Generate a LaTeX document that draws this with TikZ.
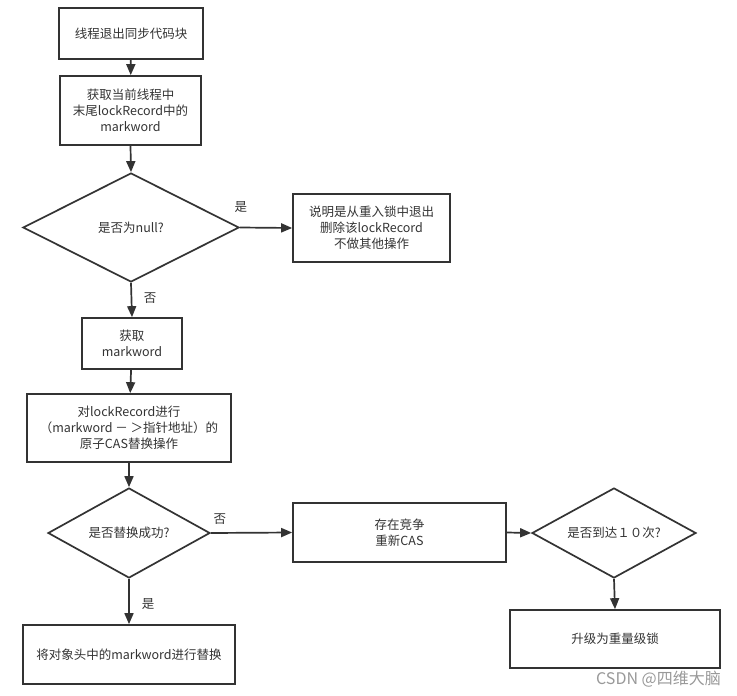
\documentclass[tikz,border=0pt]{standalone}
\usepackage{fontspec}
\setmainfont{Noto Sans CJK SC}
\usetikzlibrary{shapes.geometric,arrows.meta}
\definecolor{ln}{HTML}{333333}
\definecolor{tx}{HTML}{333333}
\begin{document}
\begin{tikzpicture}[x=1pt,y=-1pt,
  every node/.style={font=\fontsize{12.5}{16}\selectfont, text=tx, align=center, inner sep=0pt},
  box/.style={draw=ln, line width=1.7pt, rectangle},
  arr/.style={draw=ln, line width=1.7pt, -{Triangle[length=11pt,width=9pt]}},
  lbl/.style={font=\fontsize{12.5}{14}\selectfont}]
\useasboundingbox[fill=white] (0,0) rectangle (737,696);
\node[box, minimum width=144pt, minimum height=51pt] (b1) at (131,33.5) {线程退出同步代码块};
\node[box, minimum width=141pt, minimum height=69pt] (b2) at (130.5,110.5) {获取当前线程中\\末尾lockRecord中的\\markword};
\node[draw=ln, line width=1.7pt, shape=diamond, minimum width=216pt, minimum height=109pt, inner sep=0pt, aspect=2] (d1) at (131,227.5) {};
\node at (131,227.5) {是否为null?};
\node[box, minimum width=157pt, minimum height=68pt] (b3) at (371.5,228) {说明是从重入锁中退出\\删除该lockRecord\\不做其他操作};
\node[box, minimum width=100pt, minimum height=51pt] (b4) at (132,343.5) {获取\\markword};
\node[box, minimum width=204pt, minimum height=68pt] (b5) at (129,428) {对lockRecord进行\\（markword － ＞指针地址）的\\原子CAS替换操作};
\node[draw=ln, line width=1.7pt, shape=diamond, minimum width=162pt, minimum height=90pt, aspect=1.8] (d2) at (129,533) {};
\node at (129,533) {是否替换成功?};
\node[box, minimum width=212pt, minimum height=59pt] (b6) at (129,654.5) {将对象头中的markword进行替换};
\node[box, minimum width=213pt, minimum height=59pt] (b7) at (399.5,532.5) {存在竞争\\重新CAS};
\node[draw=ln, line width=1.7pt, shape=diamond, minimum width=164pt, minimum height=90pt, aspect=1.8] (d3) at (614,533) {};
\node at (614,533) {是否到达１０次?};
\node[box, minimum width=210pt, minimum height=58pt] (b8) at (615,639) {升级为重量级锁};
\draw[arr] (b1) -- (b2);
\draw[arr] (b2.south) -- (d1.north);
\draw[arr] (d1.east) -- (b3.west) node[lbl, at start, xshift=1pt, yshift=20pt] {是};
\draw[arr] (d1.south) -- (b4.north) node[lbl, at start, xshift=19pt, yshift=-15pt] {否};
\draw[arr] (b4) -- (b5);
\draw[arr] (b5.south) -- (d2.north);
\draw[arr] (d2.east) -- (b7.west) node[lbl, at start, xshift=9pt, yshift=14pt] {否};
\draw[arr] (d2.south) -- (b6.north) node[lbl, at start, xshift=19pt, yshift=-25pt] {是};
\draw[arr] (b7.east) -- (d3.west);
\draw[arr] (d3.south) -- (b8.north);
\node[font=\fontsize{16}{18}\selectfont, text=black!40, anchor=east] (wm) at (721,679) {CSDN @四维大脑};
\end{tikzpicture}
\end{document}
